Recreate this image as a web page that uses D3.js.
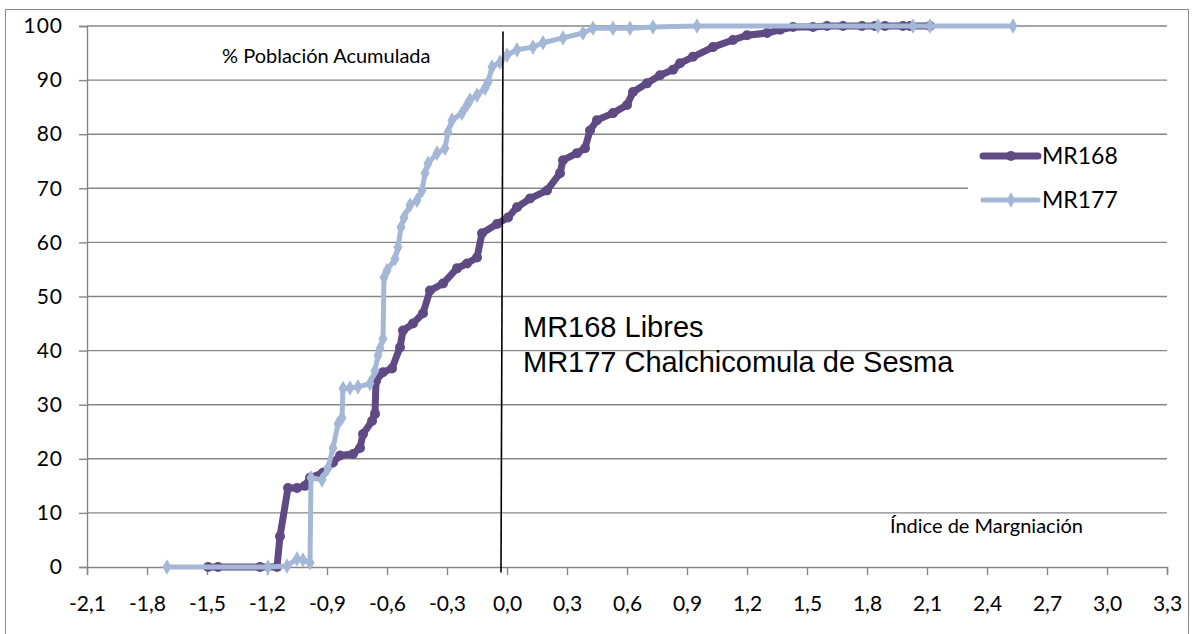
<!DOCTYPE html>
<html>
<head>
<meta charset="utf-8">
<script src="https://cdn.jsdelivr.net/npm/d3@7"></script>
<style>
  html, body { margin: 0; padding: 0; background: #fff; }
  svg { display: block; }
</style>
</head>
<body>
<svg id="chart" width="1192" height="634"></svg>
<script>
// ---- Data ----
const seriesNames = ["MR168", "MR177"];

const mr168X = [-1.495, -1.445, -1.235, -1.15, -1.135, -1.095, -1.05, -1.01, -0.985, -0.92, -0.87, -0.835, -0.77, -0.735, -0.72, -0.675, -0.66, -0.655, -0.62, -0.575, -0.535, -0.52, -0.47, -0.42, -0.385, -0.32, -0.25, -0.2, -0.15, -0.125, -0.05, 0.005, 0.05, 0.115, 0.2, 0.265, 0.28, 0.35, 0.39, 0.415, 0.45, 0.53, 0.6, 0.63, 0.7, 0.765, 0.83, 0.865, 0.93, 1.03, 1.13, 1.2, 1.3, 1.365, 1.43, 1.53, 1.6, 1.68, 1.775, 1.84, 1.89, 1.98, 2.015, 2.115];
const mr168Y = [0, 0, 0, 0, 5.7, 14.6, 14.6, 15, 16.5, 17.4, 19.3, 20.6, 20.9, 22, 24.6, 27, 28.3, 34.4, 36, 36.7, 40.6, 43.7, 45, 46.9, 51.1, 52.4, 55.2, 56.1, 57.2, 61.7, 63.4, 64.6, 66.5, 68.1, 69.6, 72.8, 75.2, 76.5, 77.4, 80.7, 82.6, 83.9, 85.4, 87.8, 89.4, 90.9, 91.9, 93.1, 94.3, 96.1, 97.4, 98.3, 98.7, 99.3, 99.8, 99.8, 100, 100, 100, 100, 100, 100, 100, 100];

const mr177X = [-1.7, -1.195, -1.1, -1.05, -1.02, -0.985, -0.98, -0.925, -0.895, -0.87, -0.845, -0.825, -0.82, -0.785, -0.745, -0.685, -0.66, -0.645, -0.635, -0.62, -0.615, -0.6, -0.56, -0.545, -0.53, -0.515, -0.485, -0.45, -0.425, -0.41, -0.395, -0.35, -0.31, -0.295, -0.275, -0.225, -0.2, -0.185, -0.15, -0.11, -0.095, -0.075, -0.035, 0.0, 0.05, 0.13, 0.18, 0.28, 0.38, 0.43, 0.53, 0.615, 0.73, 0.95, 1.855, 2.03, 2.115, 2.53];
const mr177Y = [0, 0, 0.2, 1.5, 1.3, 0.8, 16.5, 16.1, 18.3, 22, 26.5, 27.6, 33, 33.1, 33.3, 33.9, 36.3, 39.1, 40.4, 42.2, 53.5, 54.8, 57, 59.1, 62.8, 64.6, 66.9, 67.8, 69.6, 72.8, 74.6, 76.5, 77.4, 80.4, 82.6, 83.9, 85.4, 86.3, 87.2, 88.5, 89.6, 92.4, 93.3, 94.6, 95.6, 96.1, 96.9, 97.8, 98.7, 99.6, 99.6, 99.6, 99.8, 100, 100, 100, 100, 100];

const xTicks = [-2.1, -1.8, -1.5, -1.2, -0.9, -0.6, -0.3, 0.0, 0.3, 0.6, 0.9, 1.2, 1.5, 1.8, 2.1, 2.4, 2.7, 3.0, 3.3];
const yTicks = [0, 10, 20, 30, 40, 50, 60, 70, 80, 90, 100];

const yTitle = "% Población Acumulada";
const xTitle = "Índice de Margniación";
const noteLines = ["MR168 Libres", "MR177 Chalchicomula de Sesma"];
const refLineX = [-0.02, -0.03]; // the hand-drawn vertical line (top, bottom)
const refLineY = [99, -1];

(function () {
// ---- Layout ----
const svg = d3.select("#chart");
const W = 1192, H = 634;
const pLeft = 87, pRight = 1167, pTop = 26, pBottom = 567;
const gridColor = "#868686";
const c168 = "#5F4A84";
const c177 = "#A4B7D7";

const x = d3.scaleLinear().domain([-2.1, 3.3]).range([pLeft, pRight]);
const y = d3.scaleLinear().domain([0, 100]).range([pBottom, pTop]);

svg.append("rect").attr("width", W).attr("height", H).attr("fill", "#fff");
// outer chart border
svg.append("rect")
  .attr("x", 5.5).attr("y", 9.5).attr("width", 1183).attr("height", 660)
  .attr("fill", "none").attr("stroke", "#8c8c8c").attr("stroke-width", 1);

// horizontal gridlines
svg.append("g").selectAll("line").data(yTicks.filter(d => d > 0)).join("line")
  .attr("x1", pLeft).attr("x2", pRight)
  .attr("y1", d => y(d)).attr("y2", d => y(d))
  .attr("stroke", gridColor).attr("stroke-width", 1.4);

const fmt = v => d3.format(".1f")(v).replace(".", ",").replace("−", "-");

// y axis
const yAxis = d3.axisLeft(y).tickValues(yTicks).tickSize(8).tickPadding(16).tickFormat(d3.format("d"));
const gy = svg.append("g").attr("transform", `translate(${pLeft},0)`).call(yAxis);
gy.select(".domain").attr("stroke", gridColor).attr("stroke-width", 1.4);
gy.selectAll(".tick line").attr("stroke", gridColor).attr("stroke-width", 1.4);
gy.selectAll(".tick text").attr("font-family", "Lato, 'Open Sans', sans-serif")
  .attr("font-size", 21).attr("letter-spacing", 1).attr("fill", "#000");

// x axis
const xAxis = d3.axisBottom(x).tickValues(xTicks).tickSize(8).tickPadding(21).tickFormat(fmt);
const gx = svg.append("g").attr("transform", `translate(0,${pBottom})`).call(xAxis);
gx.select(".domain").attr("stroke", gridColor).attr("stroke-width", 1.4);
gx.selectAll(".tick line").attr("stroke", gridColor).attr("stroke-width", 1.4);
gx.selectAll(".tick text").attr("font-family", "Lato, 'Open Sans', sans-serif")
  .attr("font-size", 21).attr("fill", "#000");

// series
const d168 = mr168X.map((v, i) => [v, mr168Y[i]]);
const d177 = mr177X.map((v, i) => [v, mr177Y[i]]);
const line = d3.line().x(d => x(d[0])).y(d => y(d[1]));

svg.append("path").datum(d168).attr("d", line)
  .attr("fill", "none").attr("stroke", c168).attr("stroke-width", 7)
  .attr("stroke-linejoin", "round").attr("stroke-linecap", "round");
svg.append("g").selectAll("circle").data(d168).join("circle")
  .attr("cx", d => x(d[0])).attr("cy", d => y(d[1])).attr("r", 5)
  .attr("fill", c168);

svg.append("path").datum(d177).attr("d", line)
  .attr("fill", "none").attr("stroke", c177).attr("stroke-width", 5)
  .attr("stroke-linejoin", "round").attr("stroke-linecap", "round");
const diamond = d3.symbol().type(d3.symbolDiamond).size(70);
svg.append("g").selectAll("path").data(d177).join("path")
  .attr("d", diamond)
  .attr("transform", d => `translate(${x(d[0])},${y(d[1])})`)
  .attr("fill", c177);

// hand-drawn vertical line
svg.append("line")
  .attr("x1", x(refLineX[0])).attr("y1", y(refLineY[0]))
  .attr("x2", x(refLineX[1])).attr("y2", y(refLineY[1]))
  .attr("stroke", "#000").attr("stroke-width", 1.6);

// annotations
svg.append("text").attr("x", 222).attr("y", 63)
  .attr("font-family", "Lato, 'Open Sans', sans-serif").attr("font-size", 20)
  .attr("fill", "#000").text(yTitle);
svg.append("text").attr("x", 890).attr("y", 533)
  .attr("font-family", "Lato, 'Open Sans', sans-serif").attr("font-size", 20)
  .attr("fill", "#000").text(xTitle);
svg.append("g").selectAll("text").data(noteLines).join("text")
  .attr("x", 523).attr("y", (d, i) => 337 + i * 35)
  .attr("font-family", "'Liberation Sans', Arial, sans-serif").attr("font-size", 29)
  .attr("fill", "#000").text(d => d);

// legend (white box hides the gridline behind it)
svg.append("rect").attr("x", 968).attr("y", 140).attr("width", 199).attr("height", 78)
  .attr("fill", "#fff");
const legend = [
  { name: seriesNames[0], color: c168, sym: "circle", w: 7, yy: 156 },
  { name: seriesNames[1], color: c177, sym: "diamond", w: 5, yy: 200 }
];
const lg = svg.append("g").selectAll("g").data(legend).join("g")
  .attr("transform", d => `translate(0,${d.yy})`);
lg.append("line").attr("x1", 983).attr("x2", 1038).attr("y1", 0).attr("y2", 0)
  .attr("stroke", d => d.color).attr("stroke-width", d => d.w).attr("stroke-linecap", "round");
lg.append("path")
  .attr("d", d => d.sym === "circle" ? d3.symbol().type(d3.symbolCircle).size(80)() : diamond())
  .attr("transform", "translate(1011,0)").attr("fill", d => d.color);
lg.append("text").attr("x", 1042).attr("y", 0).attr("dy", "0.35em")
  .attr("font-family", "Lato, 'Open Sans', sans-serif").attr("font-size", 23)
  .attr("fill", "#000").text(d => d.name);
})();
</script>
</body>
</html>
